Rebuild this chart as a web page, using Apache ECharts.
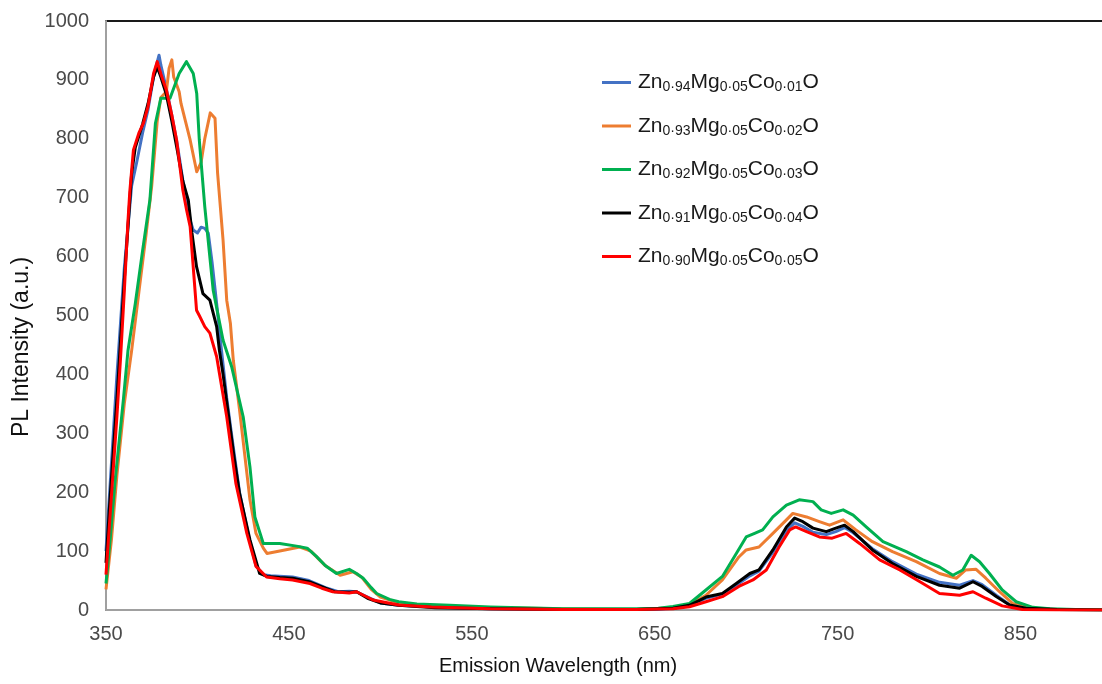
<!DOCTYPE html>
<html>
<head>
<meta charset="utf-8">
<script src="https://cdn.jsdelivr.net/npm/echarts@6/dist/echarts.min.js"></script>
<style>
html,body{margin:0;padding:0;background:#fff;}
#chart{width:1102px;height:684px;}
</style>
</head>
<body>
<div id="chart"></div>
<script>
// ---- data ----
const seriesNames = ['Zn0.94Mg0.05Co0.01O','Zn0.93Mg0.05Co0.02O','Zn0.92Mg0.05Co0.03O','Zn0.91Mg0.05Co0.04O','Zn0.90Mg0.05Co0.05O'];
const legendParts = [
  ['0·94','0·05','0·01'],
  ['0·93','0·05','0·02'],
  ['0·92','0·05','0·03'],
  ['0·91','0·05','0·04'],
  ['0·90','0·05','0·05']
];
const xTicks = [350,450,550,650,750,850];
const yTicks = [0,100,200,300,400,500,600,700,800,900,1000];

const blueX = [350,352,354,356,358,360,362,364,366.7,370,373,376,378,379,380,383,386,389,392,394,396,397.7,400,402,404,405.9,408,410.5,413,416,419,423,428,432,436,440,452,461,470,477,483,487,493,500,510,530,560,600,650,660,669,678,687,694.6,702,707,714.6,722,726.5,731,736.5,743.8,749,753.8,758.5,769,780,793,805.7,816.7,824,829,836.7,844,853,870,900];
const blueY = [100,200,300,400,490,580,650,720,759,810,850,905,930,942,925,885,840,790,730,700,662,645,640,650,648,640,590,520,445,360,290,200,125,75,60,58,56,50,38,31,32,31,22,12,8,5,2,1,1,3,7,20,27,42,58,66,98,135,148,142,132,128,133,140,131,104,82,61,47,42,50,43,25,9,3,1,0];

const orangeX = [350,353,356,360,364,368,372,375,378,380,383,384.5,386,387,388,390,391,396,399.6,402,404,407,409.6,411,414,416,418,419.6,423,428.7,432,436,438,445,456,462,470,478,485,490,495,500,510,520,540,560,600,640,660,669,678,687,696,700,707,714.6,722,725.5,733,740,745.6,753,760,769,780,793,805.7,815,820,825.7,831,838.5,845.8,855,870,900];
const orangeY = [35,120,230,350,440,540,640,720,830,870,880,920,934,905,897,880,860,798,744,760,800,844,835,742,628,526,487,424,340,187,130,105,96,100,107,100,75,59,65,55,35,22,12,8,6,4,2,1,4,9,25,51,90,102,107,130,153,164,158,150,144,153,136,116,99,82,62,54,68,69,54,31,11,3,1,0];

const greenX = [350,352,355,359.5,362,366,370,374,377,380,385,390,394,397.7,399.6,401,404,408.6,414,418.7,425,428.7,431.4,436,445,455,460,465,470,476,483,487,490.6,495,498,505,510,520,538,560,600,640,652,660,669,678,687,694.6,700,704.6,709,714.6,722,729,736.5,741,746.5,753,758.5,765.6,774.8,787.5,796.6,805.7,813,818.4,823,827.6,833,840,847.6,856.7,866,880,900];
const greenY = [45,110,220,357,440,520,610,696,826,869,869,911,931,911,877,798,685,543,458,413,328,243,158,113,113,108,105,91,75,62,69,62,54,38,28,18,14,10,8,5,2,2,3,6,11,34,57,96,124,130,136,158,178,187,184,170,164,170,161,141,116,99,85,73,59,68,93,82,62,34,14,4.5,2,1,0];

const blackX = [350,352,354,356,358,360,362,364,366,370,373,376,378,380,383,386,389,392,395,397,399.5,403,406.8,410.5,412,414,417.8,420,423,428.7,434,438,445,452,461,470,475,483,487,493,500,510,530,560,600,640,660,669,678,687,694.6,702,707,714.6,722,726.5,731,736.5,743.8,749,753.8,758.5,769,780,793,805.7,816.7,824,829,836.7,844,853,870,900];
const blackY = [80,180,270,360,460,560,650,740,785,825,860,905,922,905,875,830,780,728,696,640,583,537,526,481,441,400,311,260,198,119,62,57,55,54,48,37,31,30,31,20,12,8,4,2,1,1,3,8,22,28,45,62,68,102,141,156,150,139,133,139,144,133,102,79,57,42,37,48,40,23,8.5,3,1,0];

const redX = [350,352,354,356,358,360,362,363,365,368,370.4,373,376,378,380,383,386,388.6,392,394,396,399.5,401,404,406.8,410.5,412,416,421,427,432,437.8,445,452,461.5,468,474,483,487,496,510,528,560,600,640,660,669,678,687,696,703.7,711,718,723.8,727,733,740,747,754.7,762,773,784,795,805.7,816.7,824,831,840,851,870,900];
const redY = [60,150,240,330,430,540,660,710,781,810,826,855,911,931,910,883,840,798,713,680,651,509,500,481,470,430,402,328,215,130,74,56,53,51,45,37,31,29,31,17,8.5,5,2,1,1,2,5.6,14,22.6,40,51,68,107,136,141,133,124,122,130,113,85,68,48,28,25,31,20,7,1,0,0];

const colors = ['#4472C4','#ED7D31','#00B050','#000000','#FF0000'];
const xs = [blueX, orangeX, greenX, blackX, redX];
const ys = [blueY, orangeY, greenY, blackY, redY];

function pairs(x, y){ return x.map((v,i)=>[v, y[i]]); }

const chart = echarts.init(document.getElementById('chart'), null, {renderer:'canvas'});
const FONT = '"Liberation Sans", Arial, sans-serif';

const option = {
  animation: false,
  backgroundColor: '#ffffff',
  grid: {left: 106, top: 21, width: 1006, height: 589, outerBoundsMode: 'none', containLabel: false,
         show: true, borderColor: '#1a1a1a', borderWidth: 2, backgroundColor: 'transparent'},
  legend: {
    orient: 'vertical',
    left: 597, top: 67,
    itemWidth: 29, itemHeight: 3, itemGap: 21,
    icon: 'rect',
    data: seriesNames,
    formatter: function(name){
      const i = seriesNames.indexOf(name);
      const p = legendParts[i];
      return '{n|Zn}{s|' + p[0] + '}{n|Mg}{s|' + p[1] + '}{n|Co}{s|' + p[2] + '}{n|O}';
    },
    textStyle: {
      fontFamily: FONT, color: '#1a1a1a', padding: [0,0,0,2],
      rich: {
        n: {fontSize: 21, lineHeight: 24, fontFamily: FONT, color: '#1a1a1a', verticalAlign: 'middle'},
        s: {fontSize: 14, lineHeight: 12, fontFamily: FONT, color: '#1a1a1a', verticalAlign: 'bottom'}
      }
    }
  },
  xAxis: {
    type: 'value', min: xTicks[0], max: 900, interval: 100,
    axisLine: {show: true, onZero: false, lineStyle: {color: '#a0a0a0', width: 2}},
    axisTick: {show: false},
    splitLine: {show: false},
    axisLabel: {fontFamily: FONT, fontSize: 20, color: '#4a4a4a', margin: 14, showMaxLabel: false,
                formatter: function(v){ return String(v); }},
    name: 'Emission Wavelength (nm)', nameLocation: 'middle', nameGap: 46,
    nameTextStyle: {fontFamily: FONT, fontSize: 20, color: '#111', padding: [0, 102, 0, 0]}
  },
  yAxis: {
    type: 'value', min: yTicks[0], max: yTicks[yTicks.length-1], interval: 100,
    axisLine: {show: true, lineStyle: {color: '#a0a0a0', width: 2}},
    axisTick: {show: false},
    splitLine: {show: false},
    axisLabel: {fontFamily: FONT, fontSize: 20, color: '#4a4a4a', margin: 17,
                formatter: function(v){ return String(v); }}
  },
  graphic: [{
    type: 'text', x: 22, y: 347, rotation: Math.PI/2,
    style: {text: 'PL Intensity (a.u.)', font: '23px "Liberation Sans", Arial, sans-serif', fill: '#111', align: 'center', verticalAlign: 'middle'}
  }],
  series: seriesNames.map((n, i) => ({
    name: n, type: 'line', data: pairs(xs[i], ys[i]),
    symbol: 'none', showSymbol: false, smooth: false,
    color: colors[i],
    lineStyle: {color: colors[i], width: 3, join: 'round'},
    itemStyle: {color: colors[i]},
    clip: true
  }))
};
chart.setOption(option);
</script>
</body>
</html>
